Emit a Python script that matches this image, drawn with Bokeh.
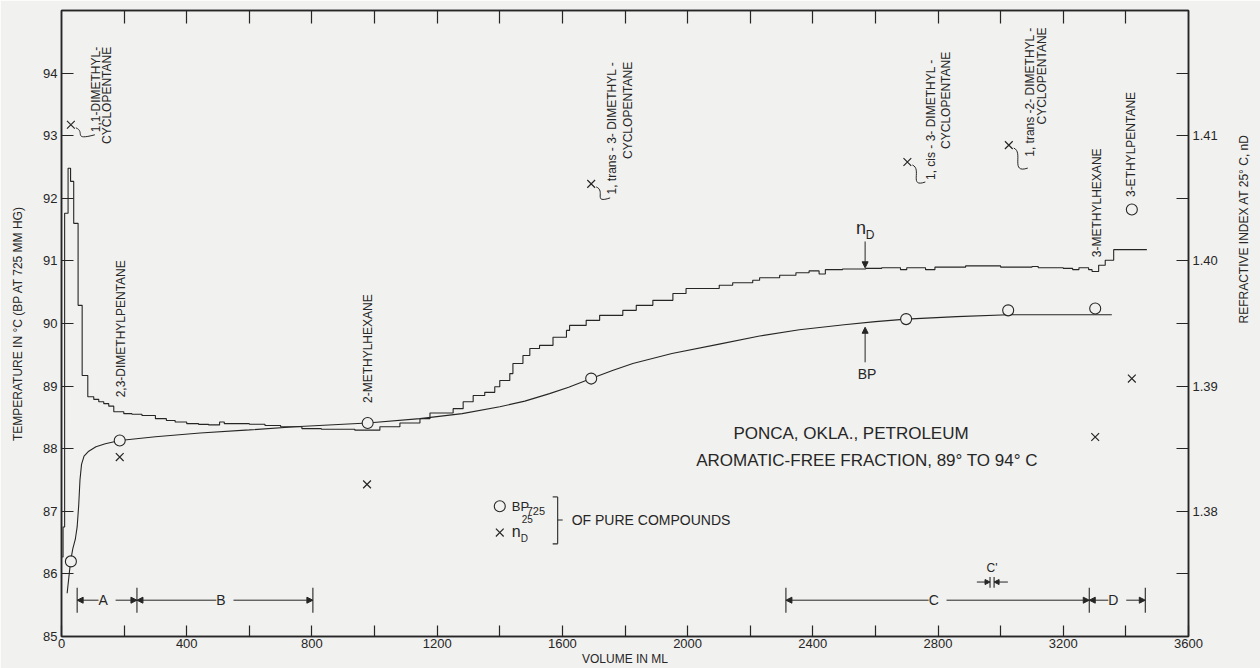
import math
from bokeh.plotting import figure
from bokeh.models import Range1d, LinearAxis, FixedTicker, PrintfTickFormatter, Label, Arrow, NormalHead
from bokeh.core.properties import value
from bokeh.embed import file_html
from bokeh.resources import INLINE

BG = "#f1f1ef"
INK = "#262626"
FONT = "Liberation Sans"

# ---------------- data ----------------
X_MAJOR = [0, 400, 800, 1200, 1600, 2000, 2400, 2800, 3200, 3600]
X_MINOR = [200, 600, 1000, 1400, 1800, 2200, 2600, 3000, 3400]
T_TICKS = [85, 86, 87, 88, 89, 90, 91, 92, 93, 94]
ND_MAJOR = [1.38, 1.39, 1.40, 1.41]
ND_MINOR = [1.375, 1.385, 1.395, 1.405, 1.415]

# refractive index of the fractions (start volume of each cut, n_D)
ND_VOL = [2, 5, 10, 21, 29, 39, 53, 66, 84, 103, 119, 135, 151, 167, 199, 225, 257,
          300, 335, 363, 400, 438, 470, 505, 520, 600, 650, 700, 768, 830, 937,
          1017, 1081, 1145, 1177, 1251, 1283, 1315, 1352, 1384, 1400, 1432, 1442,
          1474, 1496, 1527, 1570, 1613, 1623, 1676, 1719, 1793, 1836, 1889, 1953,
          1995, 2101, 2144, 2208, 2230, 2294, 2346, 2388, 2420, 2440, 2495, 2569,
          2620, 2680, 2700, 2760, 2790, 2888, 3000, 3047, 3100, 3120, 3200, 3230,
          3250, 3281, 3292, 3313, 3334, 3361]
ND_VAL = [1.37635, 1.37875, 1.4038, 1.4074, 1.40635, 1.4030, 1.39645, 1.39085, 1.38915,
          1.38894, 1.38875, 1.3886, 1.3884, 1.38795, 1.3878, 1.38775, 1.38765,
          1.3874, 1.38725, 1.38713, 1.3870, 1.38694, 1.3869, 1.38713, 1.3870,
          1.38695, 1.38685, 1.38675, 1.3866, 1.38655, 1.38648,
          1.38675, 1.38705, 1.3874, 1.38785, 1.3882, 1.38875, 1.38925, 1.3895,
          1.38995, 1.39045, 1.3910, 1.3918, 1.39245, 1.3930, 1.39325, 1.3939,
          1.39445, 1.39485, 1.39525, 1.39565, 1.39605, 1.39645, 1.39685, 1.3974,
          1.3978, 1.39805, 1.39825, 1.39845, 1.39865, 1.39885, 1.39905, 1.3992,
          1.39895, 1.3993, 1.39935, 1.3994, 1.39945, 1.3993, 1.39945, 1.3993,
          1.3995, 1.3996, 1.3995, 1.3995, 1.39955, 1.39945, 1.3994, 1.3993,
          1.39945, 1.3993, 1.39915, 1.39965, 1.40005, 1.4009]
ND_END_VOL = 3467

# boiling point of the distillate
BP_VOL = [18, 29, 36, 44, 50, 55, 59, 64, 72, 87, 110, 140, 186, 300, 443, 600, 746,
          900, 978, 1145, 1280, 1400, 1480, 1559, 1620, 1692, 1760, 1825, 1950,
          2101, 2230, 2357, 2500, 2600, 2698, 2860, 3024, 3200, 3355]
BP_TEMP = [85.69, 86.20, 86.40, 86.55, 86.75, 87.10, 87.50, 87.75, 87.88, 87.96,
           88.03, 88.08, 88.13, 88.19, 88.25, 88.30, 88.35, 88.39, 88.41, 88.48,
           88.56, 88.67, 88.76, 88.88, 88.98, 89.12, 89.25, 89.36, 89.52, 89.67,
           89.80, 89.90, 89.98, 90.03, 90.07, 90.11, 90.14, 90.14, 90.14]

# pure compounds
COMPOUNDS = ["1,1-dimethylcyclopentane", "2,3-dimethylpentane", "2-methylhexane",
             "1,trans-3-dimethylcyclopentane", "1,cis-3-dimethylcyclopentane",
             "1,trans-2-dimethylcyclopentane", "3-methylhexane", "3-ethylpentane"]
PURE_BP_VOL = [30, 186, 978, 1692, 2698, 3024, 3302, 3419]
PURE_BP = [86.20, 88.13, 88.41, 89.12, 90.07, 90.21, 90.24, 91.82]
PURE_ND_VOL = [30, 186, 976, 1692, 2702, 3026, 3302, 3419]
PURE_ND = [1.41087, 1.38433, 1.38215, 1.40615, 1.4079, 1.40925, 1.38593, 1.3906]

# compound name labels (text, volume, temperature, anchor)
NAME_TEXT = ["1,1-DIMETHYL-", "CYCLOPENTANE", "2,3-DIMETHYLPENTANE", "2-METHYLHEXANE",
             "1, trans - 3- DIMETHYL -", "CYCLOPENTANE", "1, cis - 3- DIMETHYL -",
             "CYCLOPENTANE", "1, trans -2- DIMETHYL -", "CYCLOPENTANE",
             "3-METHYLHEXANE", "3-ETHYLPENTANE"]
NAME_VOL = [110, 146, 191, 979, 1760, 1808, 2777, 2825, 3093, 3133, 3307, 3415]
NAME_T = [94.42, 94.42, 88.82, 88.73, 94.18, 94.18, 94.22, 94.34, 94.73, 94.73, 91.06, 92.02]
NAME_ALIGN = ["right", "right", "left", "left", "right", "right", "right", "right",
              "right", "right", "left", "left"]

# fractions
FRACTIONS = ["A", "B", "C", "D"]
FRACTION_START = [50, 241, 2314, 3283]
FRACTION_END = [241, 803, 3283, 3462]
SUBCUT = "C'"
SUBCUT_START = 2966
SUBCUT_END = 2979

# ---------------- helpers ----------------
ML_PER_PX = 3600 / 1129.0
T_PER_PX = 10 / 626.0


def nd_to_t(n):
    return 85 + (n - 1.37) / 0.005


p = figure(width=1260, height=668, x_range=Range1d(0, 3600), y_range=Range1d(85, 95),
           output_backend="svg", toolbar_location=None,
           min_border_left=61, min_border_right=70, min_border_top=10, min_border_bottom=32,
           background_fill_color=BG, border_fill_color=BG,
           outline_line_color=INK, outline_line_width=1.5)
p.extra_y_ranges = {"nd": Range1d(1.37, 1.42)}
p.grid.visible = False


def style_axis(ax, tick_in=11):
    ax.axis_line_color = INK
    ax.axis_line_width = 1.5
    ax.major_tick_line_color = INK
    ax.minor_tick_line_color = INK
    ax.major_tick_line_width = 1.2
    ax.minor_tick_line_width = 1.2
    ax.major_tick_in = tick_in
    ax.major_tick_out = 0
    ax.minor_tick_in = tick_in
    ax.minor_tick_out = 0
    ax.major_label_text_font = FONT
    ax.major_label_text_font_size = "13px"
    ax.major_label_text_color = INK
    ax.axis_label_text_font = FONT
    ax.axis_label_text_font_size = "12px"
    ax.axis_label_text_font_style = "normal"
    ax.axis_label_text_color = INK


xa = p.xaxis[0]
style_axis(xa, 11)
xa.ticker = FixedTicker(ticks=X_MAJOR, minor_ticks=X_MINOR)
xa.major_label_standoff = 2
xa.axis_label = "VOLUME IN ML"
xa.axis_label_standoff = 1

ya = p.yaxis[0]
style_axis(ya, 12)
ya.ticker = FixedTicker(ticks=T_TICKS)
ya.minor_tick_line_color = None
ya.major_label_standoff = 4
ya.axis_label = "TEMPERATURE IN °C (BP AT 725 MM HG)"
ya.axis_label_standoff = 15

ra = LinearAxis(y_range_name="nd", ticker=FixedTicker(ticks=ND_MAJOR, minor_ticks=ND_MINOR),
                formatter=PrintfTickFormatter(format="%.2f"))
style_axis(ra, 12)
ra.major_label_standoff = 4
ra.axis_label = "REFRACTIVE INDEX AT 25° C, nD"
ra.axis_label_standoff = 23
try:
    ra.axis_label_orientation = math.pi / 2
except Exception:
    pass
p.add_layout(ra, "right")

ta = LinearAxis(ticker=FixedTicker(ticks=X_MINOR + X_MAJOR[1:-1]))
style_axis(ta, 13)
ta.minor_tick_line_color = None
ta.major_label_text_font_size = "0px"
ta.major_label_text_color = None
ta.major_label_standoff = 0
p.add_layout(ta, "above")

# ---------------- curves ----------------
p.line(BP_VOL, BP_TEMP, line_color=INK, line_width=1.1)
p.step(ND_VOL + [ND_END_VOL], ND_VAL + [ND_VAL[-1]], mode="after", y_range_name="nd",
       line_color=INK, line_width=1.1)

p.scatter(PURE_BP_VOL, PURE_BP, marker="circle", size=11, fill_color=BG,
          line_color=INK, line_width=1.1)
p.scatter(PURE_ND_VOL, PURE_ND, marker="x", size=11, y_range_name="nd",
          line_color=INK, line_width=1.2)

# compound names
p.text(x=NAME_VOL, y=NAME_T, text=NAME_TEXT, angle=math.pi / 2, text_align=NAME_ALIGN,
       text_baseline="middle", text_font=value(FONT), text_font_size="12px", text_color=INK)

# leader curves from the X marks to the cyclopentane labels
LEADER_IDX = [0, 3, 4, 5]
LEADER_END = [(24, 10), (19, 14), (18, 20), (19, 23)]
for i, (ex, ey) in zip(LEADER_IDX, LEADER_END):
    x0 = PURE_ND_VOL[i]
    t0 = nd_to_t(PURE_ND[i])
    p.bezier(x0=[x0 + 5 * ML_PER_PX], y0=[t0 - 3 * T_PER_PX],
             x1=[x0 + ex * ML_PER_PX], y1=[t0 - ey * T_PER_PX],
             cx0=[x0 + 15 * ML_PER_PX], cy0=[t0 - 7 * T_PER_PX],
             cx1=[x0 + 1 * ML_PER_PX], cy1=[t0 - (ey + 6) * T_PER_PX],
             line_color=INK, line_width=1)

# n_D and BP arrows
ARROW_VOL = 2567
nd_here = [v for s, v in zip(ND_VOL, ND_VAL) if s <= ARROW_VOL][-1]
p.add_layout(Arrow(end=NormalHead(size=6, fill_color=INK, line_color=INK),
                   x_start=ARROW_VOL, y_start=nd_here + 0.0022, x_end=ARROW_VOL,
                   y_end=nd_here + 0.0001, y_range_name="nd", line_color=INK, line_width=1))
bp_here = 90.0
p.add_layout(Arrow(end=NormalHead(size=6, fill_color=INK, line_color=INK),
                   x_start=ARROW_VOL, y_start=bp_here - 0.62, x_end=ARROW_VOL,
                   y_end=bp_here - 0.06, line_color=INK, line_width=1))
p.text(x=[ARROW_VOL - 4 * ML_PER_PX], y=[91.53], text=["n"], text_align="center",
       text_baseline="middle", text_font=value(FONT), text_font_size="18px", text_color=INK)
p.text(x=[ARROW_VOL + 5 * ML_PER_PX], y=[91.42], text=["D"], text_align="center",
       text_baseline="middle", text_font=value(FONT), text_font_size="12px", text_color=INK)
p.text(x=[ARROW_VOL + 2 * ML_PER_PX], y=[89.19], text=["BP"], text_align="center",
       text_baseline="middle", text_font=value(FONT), text_font_size="14px", text_color=INK)

# title
p.text(x=[2522, 2573], y=[88.25, 87.81],
       text=["PONCA, OKLA., PETROLEUM", "AROMATIC-FREE FRACTION, 89° TO 94° C"],
       text_align="center", text_baseline="middle", text_font=value(FONT),
       text_font_size="17px", text_color=INK)

# legend of the pure compounds
LEG_X = 1400
p.scatter([LEG_X], [87.08], marker="circle", size=11, fill_color=BG, line_color=INK, line_width=1.1)
p.scatter([LEG_X], [86.66], marker="x", size=11, line_color=INK, line_width=1.2)
p.text(x=[LEG_X + 12 * ML_PER_PX], y=[87.08], text=["BP"], text_align="left",
       text_baseline="middle", text_font=value(FONT), text_font_size="13px", text_color=INK)
p.text(x=[LEG_X + 27 * ML_PER_PX], y=[87.00], text=["725"], text_align="left",
       text_baseline="middle", text_font=value(FONT), text_font_size="11px", text_color=INK)
p.text(x=[LEG_X + 12 * ML_PER_PX], y=[86.68], text=["n"], text_align="left",
       text_baseline="middle", text_font=value(FONT), text_font_size="16px", text_color=INK)
p.text(x=[LEG_X + 21 * ML_PER_PX], y=[86.57], text=["D"], text_align="left",
       text_baseline="middle", text_font=value(FONT), text_font_size="10px", text_color=INK)
p.text(x=[LEG_X + 22 * ML_PER_PX], y=[86.88], text=["25"], text_align="left",
       text_baseline="middle", text_font=value(FONT), text_font_size="10px", text_color=INK)
bx = LEG_X + 58 * ML_PER_PX
p.segment(x0=[bx, bx - 5 * ML_PER_PX, bx - 5 * ML_PER_PX, bx],
          y0=[87.23, 87.23, 86.48, 86.86],
          x1=[bx, bx, bx, bx + 5 * ML_PER_PX],
          y1=[86.48, 87.23, 86.48, 86.86], line_color=INK, line_width=1.1)
p.text(x=[bx + 14 * ML_PER_PX], y=[86.86], text=["OF PURE COMPOUNDS"], text_align="left",
       text_baseline="middle", text_font=value(FONT), text_font_size="14px", text_color=INK)

# fraction markers along the bottom
YB = 85.58
bounds = sorted(set(FRACTION_START + FRACTION_END))
p.segment(x0=bounds, y0=[85.38] * len(bounds), x1=bounds, y1=[85.78] * len(bounds),
          line_color=INK, line_width=1.1)
for name, s, e in zip(FRACTIONS, FRACTION_START, FRACTION_END):
    mid = (s + e) / 2
    for tgt in (s, e):
        p.add_layout(Arrow(end=NormalHead(size=6, fill_color=INK, line_color=INK),
                           x_start=mid, y_start=YB, x_end=tgt, y_end=YB,
                           line_color=INK, line_width=1))
    p.add_layout(Label(x=mid, y=YB, text=" " + name + " ", text_align="center",
                       text_baseline="middle", text_font=FONT, text_font_size="14px",
                       text_color=INK, background_fill_color=BG))

p.segment(x0=[SUBCUT_START, SUBCUT_END], y0=[85.78, 85.78], x1=[SUBCUT_START, SUBCUT_END],
          y1=[85.95, 85.95], line_color=INK, line_width=1.1)
p.add_layout(Arrow(end=NormalHead(size=5, fill_color=INK, line_color=INK),
                   x_start=SUBCUT_START - 42, y_start=85.87, x_end=SUBCUT_START, y_end=85.87,
                   line_color=INK, line_width=1))
p.add_layout(Arrow(end=NormalHead(size=5, fill_color=INK, line_color=INK),
                   x_start=SUBCUT_END + 44, y_start=85.87, x_end=SUBCUT_END, y_end=85.87,
                   line_color=INK, line_width=1))
p.text(x=[(SUBCUT_START + SUBCUT_END) / 2], y=[86.09], text=[SUBCUT], text_align="center",
       text_baseline="middle", text_font=value(FONT), text_font_size="12px", text_color=INK)

open("out.html", "w").write(file_html(p, INLINE))
